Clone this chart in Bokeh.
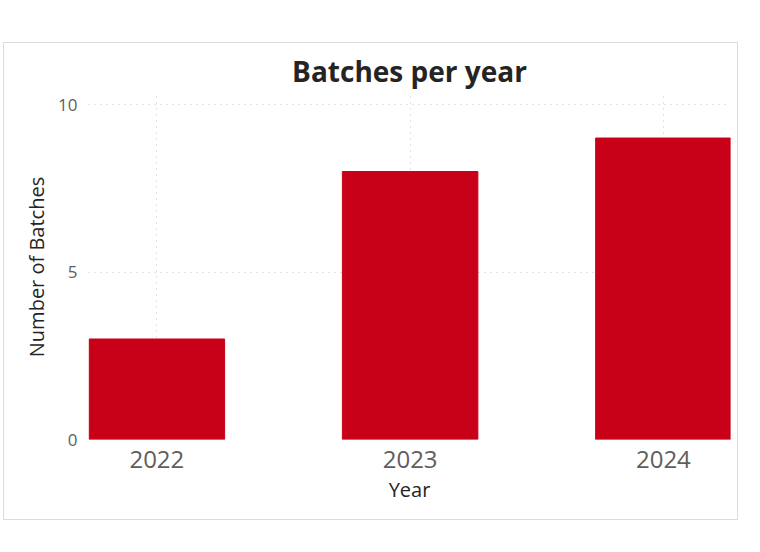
from bokeh.plotting import figure
from bokeh.models import FixedTicker, Range1d
from bokeh.embed import file_html
from bokeh.resources import INLINE

years = [2022, 2023, 2024]
batches = [3, 8, 9]
year_labels = {2022: "2022", 2023: "2023", 2024: "2024"}

p = figure(width=735, height=478, output_backend="svg", toolbar_location=None,
           x_range=Range1d(2021.73, 2024.265), y_range=Range1d(0, 10.3),
           min_border_left=84, min_border_right=9, min_border_top=51, min_border_bottom=82,
           title="Batches per year")
p.styles = {"border": "1px solid #dcdcdc", "margin-left": "3px", "margin-top": "42px"}

p.vbar(x=years, top=batches, width=0.535, color="#C80018")

p.title.align = "center"
p.title.text_font = "Open Sans"
p.title.text_font_size = "28px"
p.title.text_font_style = "bold"
p.title.text_color = "#252423"

p.xaxis.ticker = FixedTicker(ticks=years)
p.xaxis.major_label_overrides = year_labels
p.yaxis.ticker = FixedTicker(ticks=[0, 5, 10])
p.xaxis.axis_label = "Year"
p.yaxis.axis_label = "Number of Batches"

for ax in (p.xaxis, p.yaxis):
    ax.axis_line_color = None
    ax.major_tick_line_color = None
    ax.minor_tick_line_color = None
    ax.major_label_text_font = "Open Sans"
    ax.major_label_text_color = "#605e5c"
    ax.axis_label_text_font = "Open Sans"
    ax.axis_label_text_font_style = "normal"
    ax.axis_label_text_font_size = "20px"
    ax.axis_label_text_color = "#252423"
p.xaxis.major_label_text_font_size = "24px"
p.yaxis.major_label_text_font_size = "17px"

p.grid.grid_line_color = "#c8c8c8"
p.grid.grid_line_dash = "1 5"
p.outline_line_color = None

open("out.html", "w").write(file_html(p, INLINE))
